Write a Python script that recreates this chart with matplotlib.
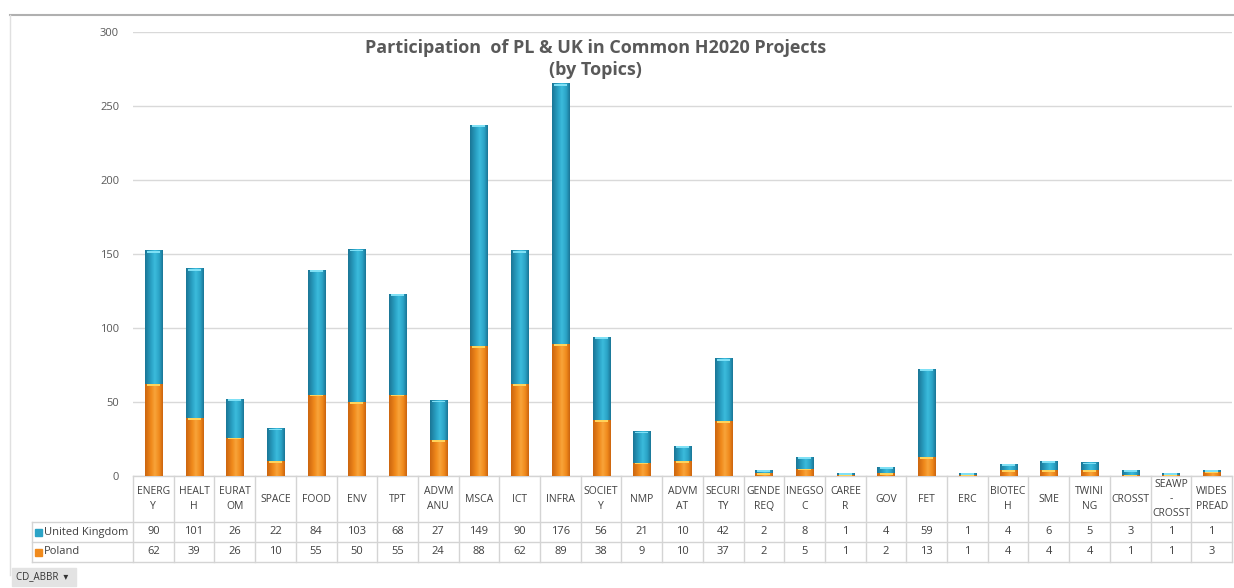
import numpy as np
import matplotlib
matplotlib.use("Agg")
import matplotlib.pyplot as plt
from matplotlib.transforms import blended_transform_factory
from matplotlib.patches import Rectangle
from matplotlib.colors import LinearSegmentedColormap

plt.rcParams['font.family'] = ['Open Sans', 'DejaVu Sans']

# --- data ---
topics = ['ENERGY', 'HEALTH', 'EURATOM', 'SPACE', 'FOOD', 'ENV', 'TPT', 'ADVMANU',
          'MSCA', 'ICT', 'INFRA', 'SOCIETY', 'NMP', 'ADVMAT', 'SECURITY', 'GENDEREQ',
          'INEGSOC', 'CAREER', 'GOV', 'FET', 'ERC', 'BIOTECH', 'SME', 'TWINING',
          'CROSST', 'SEAWP-CROSST', 'WIDESPREAD']
header_labels = ['ENERG\nY', 'HEALT\nH', 'EURAT\nOM', 'SPACE', 'FOOD', 'ENV', 'TPT',
                 'ADVM\nANU', 'MSCA', 'ICT', 'INFRA', 'SOCIET\nY', 'NMP', 'ADVM\nAT',
                 'SECURI\nTY', 'GENDE\nREQ', 'INEGSO\nC', 'CAREE\nR', 'GOV', 'FET',
                 'ERC', 'BIOTEC\nH', 'SME', 'TWINI\nNG', 'CROSST', 'SEAWP\n-\nCROSST',
                 'WIDES\nPREAD']
uk = [90, 101, 26, 22, 84, 103, 68, 27, 149, 90, 176, 56, 21, 10, 42, 2, 8, 1, 4, 59,
      1, 4, 6, 5, 3, 1, 1]
poland = [62, 39, 26, 10, 55, 50, 55, 24, 88, 62, 89, 38, 9, 10, 37, 2, 5, 1, 2, 13,
          1, 4, 4, 4, 1, 1, 3]
yticks = [0, 50, 100, 150, 200, 250, 300]

W, H = 1234, 588
fig = plt.figure(figsize=(W / 100, H / 100), dpi=100)
ax = fig.add_axes([133 / W, 1 - 476 / H, 1099 / W, 444 / H])

n = len(topics)
x = np.arange(n)
bar_w = 0.42


def cylinder_cmap(dark, mid, light):
    return LinearSegmentedColormap.from_list(
        'c', [(0, dark), (0.35, mid), (0.55, light), (0.8, mid), (1, dark)])


blue_cm = cylinder_cmap('#1a7696', '#2ba3c6', '#3bbbdc')
orange_cm = cylinder_cmap('#cc650f', '#f08a1c', '#f8a43a')
grad = np.linspace(0, 1, 64).reshape(1, -1)

pl_bars = ax.bar(x, poland, width=bar_w, color='#f08a1c', zorder=2)
uk_bars = ax.bar(x, uk, width=bar_w, bottom=poland, color='#2ba3c6', zorder=2)

# cylinder shading on each bar segment
for bars, cm, cap in [(pl_bars, orange_cm, '#ffd35a'), (uk_bars, blue_cm, '#7fe0f5')]:
    for b in bars:
        x0, y0 = b.get_x(), b.get_y()
        w, h = b.get_width(), b.get_height()
        ax.imshow(grad, cmap=cm, aspect='auto', extent=(x0, x0 + w, y0, y0 + h),
                  zorder=3)
        ax.add_patch(Rectangle((x0 + w * 0.12, y0 + h - min(h, 1.2)), w * 0.76,
                               min(h, 1.2), color=cap, zorder=4, lw=0))
ax.set_xlim(-0.5, n - 0.5)
ax.set_ylim(0, 300)

ax.set_yticks(yticks)
ax.set_yticklabels([str(t) for t in yticks], color='#595959', fontsize=8)
ax.tick_params(axis='y', length=0, pad=10)
ax.set_xticks([])
for s in ax.spines.values():
    s.set_visible(False)
ax.grid(axis='y', color='#d9d9d9', lw=1, zorder=0)
ax.set_axisbelow(True)

ax.text(0.421, 0.985, 'Participation  of PL & UK in Common H2020 Projects\n(by Topics)',
        transform=ax.transAxes, ha='center', va='top', fontsize=13,
        fontweight='bold', color='#595959', linespacing=1.3)

# --- data table under the axes ---
tr = blended_transform_factory(ax.transData, ax.transAxes)
px = 1 / 444  # one pixel in axes-fraction units (vertical)
y_head_bot = -46 * px
y_uk_bot = -66 * px
y_pl_bot = -86 * px
line_kw = dict(color='#d4d4d4', lw=1, clip_on=False)
for xb in np.arange(-0.5, n, 1.0):
    ax.plot([xb, xb], [0, y_pl_bot], transform=tr, **line_kw)
ax.plot([-0.5, n - 0.5], [0, 0], transform=tr, **line_kw)
left_x = -0.5 - 101 / 40.7
for yy in [y_head_bot, y_uk_bot, y_pl_bot]:
    ax.plot([left_x, n - 0.5], [yy, yy], transform=tr, **line_kw)
ax.plot([left_x, left_x], [y_head_bot, y_pl_bot], transform=tr, **line_kw)

for i in range(n):
    ax.text(x[i], y_head_bot / 2, header_labels[i], transform=tr, ha='center',
            va='center', fontsize=7.5, color='#404040', linespacing=1.4)
    ax.text(x[i], (y_head_bot + y_uk_bot) / 2, str(uk[i]), transform=tr,
            ha='center', va='center', fontsize=8, color='#404040')
    ax.text(x[i], (y_uk_bot + y_pl_bot) / 2, str(poland[i]), transform=tr,
            ha='center', va='center', fontsize=8, color='#404040')

for (yy, label, c) in [((y_head_bot + y_uk_bot) / 2, 'United Kingdom', '#2ba3c6'),
                       ((y_uk_bot + y_pl_bot) / 2, 'Poland', '#f08a1c')]:
    ax.add_patch(Rectangle((left_x + 0.07, yy - 3.5 * px), 0.17, 7 * px,
                           transform=tr, color=c, clip_on=False))
    ax.text(left_x + 0.3, yy, label, transform=tr, ha='left', va='center',
            fontsize=8, color='#404040')

# chart frame and field button
fig.add_artist(plt.Line2D([10 / W, 1], [1 - 15 / H, 1 - 15 / H], color='#b0b0b0',
                          lw=1.5))
fig.add_artist(plt.Line2D([10 / W, 10 / W], [1 - 15 / H, 1 - 575 / H],
                          color='#e0e0e0', lw=1))
fig.add_artist(Rectangle((12 / W, 1 - 586 / H), 64 / W, 18 / H, color='#e3e3e3',
                         transform=fig.transFigure))
fig.text(16 / W, 1 - 577 / H, 'CD_ABBR  \u25be', fontsize=7, color='#333333',
         va='center', ha='left')

fig.savefig('out.png', dpi=100)
